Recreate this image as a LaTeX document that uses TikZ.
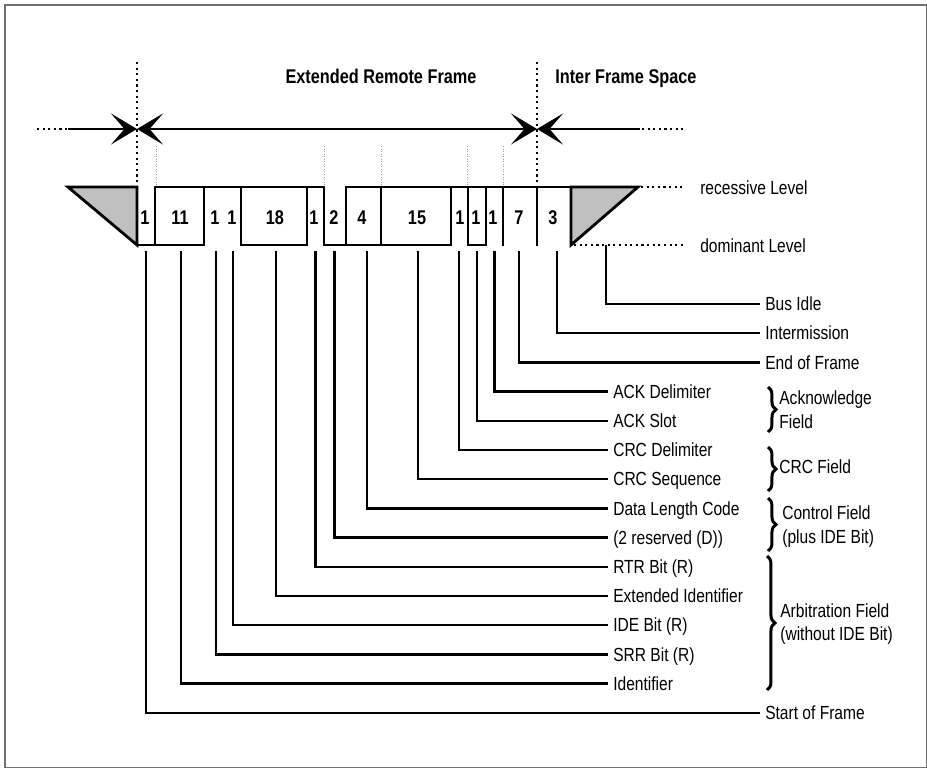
\documentclass[tikz,border=0pt]{standalone}
\usepackage{fontspec}
\setmainfont{Liberation Sans}[FakeStretch=0.82]
\usepackage{tikz}
\usetikzlibrary{arrows.meta,decorations.pathreplacing}
\definecolor{idlec}{HTML}{C0C0C0}
\definecolor{edgec}{HTML}{707070}
\definecolor{gridc}{HTML}{9A9A9A}
\tikzset{
  wave/.style={line width=1.6pt, line cap=rect, line join=miter},
  wire/.style={line width=1.3pt},
  span/.style={line width=1.5pt},
  dots/.style={line width=1.2pt, dash pattern=on 1.2pt off 2pt},
  tick/.style={draw=gridc, line width=0.35pt, dash pattern=on 0.35pt off 1.1pt},
  brc/.style={line width=1.7pt, decorate, decoration={brace, amplitude=4.5pt}},
  head/.style={font=\fontsize{11.3}{13}\selectfont\bfseries, inner sep=0pt, text height=8.1pt, text depth=0pt},
  bitnum/.style={head},
  lbl/.style={font=\fontsize{10.8}{13}\selectfont, anchor=west, inner xsep=2.8pt, inner ysep=0pt, text height=7.7pt, text depth=0pt},
  fld/.style={lbl, inner xsep=0pt},
}

\begin{document}
\begin{tikzpicture}[x=0.02cm, y=-0.02cm, >={Stealth[length=0.52cm, width=0.62cm, inset=0.27cm]}]
\useasboundingbox (0,0) rectangle (927,768);
\draw[edgec, line width=0.6pt] (5,5) rectangle (926.5,767.5);
\node[head] (erf) at (381,76) {Extended Remote Frame};
\node[head, anchor=west] (ifs) at (555,76) {Inter Frame Space};
\coordinate (fs) at (137,129);
\coordinate (fe) at (537,129);
\draw[dots] (137,62) -- (137,184);
\draw[dots] (537,62) -- (537,184);
\draw[dots] (37,129) -- (68,129);
\draw[span,->] (68,129) -- (fs);
\draw[span,<->] (fs) -- (fe);
\draw[span,->] (640,129) -- (fe);
\draw[dots] (642,129) -- (683,129);
\foreach \x in {156,324,381,467,503} \draw[tick] (\x,146) -- (\x,185);
\filldraw[wave, fill=idlec] (68,187) -- (137,187) -- (137,245) -- cycle;
\filldraw[wave, fill=idlec] (571,245) -- (571,187) -- (638,187) -- cycle;
\draw[wave] (137,245) -- (155,245) -- (155,187) -- (324,187) -- (324,245) -- (346,245) -- (346,187) -- (571,187);
\foreach \a/\b in {155/204, 241/307, 346/451, 468/486} \draw[wave] (\a,245) -- (\b,245);
\foreach \x in {204,241,307,381,451,468,486,503,537} \draw[wave] (\x,187) -- (\x,245);
\draw[dots] (641,187) -- (683,187);
\draw[dots] (574,245) -- (683,245);
\node[lbl] (rec) at (695,188) {recessive Level};
\node[lbl] (dom) at (695,246) {dominant Level};
\foreach \x/\n [count=\i] in {145/1,180/11,215/1,232/1,275/18,314/1,334/2,362/4,417/15,460/1,476/1,493/1,519/7,553/3}
  \node[bitnum] (bit\i) at (\x,217) {\n};
\foreach \x/\s/\y/\e/\t [count=\i] in {606/245/304/760/{Bus Idle}, 557/251/333.2/760/{Intermission},
    519/251/362.4/760/{End of Frame}, 494.5/251/391.6/608/{ACK Delimiter}, 477/251/420.8/608/{ACK Slot},
    459/251/450/608/{CRC Delimiter}, 418/251/479.2/608/{CRC Sequence}, 367/251/508.4/608/{Data Length Code},
    334.5/251/537.6/608/{(2 reserved (D))}, 315.5/251/566.8/608/{RTR Bit (R)}, 276/251/596/608/{Extended Identifier},
    233/251/625.2/608/{IDE Bit (R)}, 216/251/654.4/608/{SRR Bit (R)}, 181/251/683.6/608/{Identifier},
    146/251/712.8/760/{Start of Frame}}
{
  \node[lbl] (lab\i) at (\e,\y) {\t};
  \draw[wire] (\x,\s) |- (lab\i.west);
}
\draw[brc] (768,387) -- (768,432);
\draw[brc] (768,447) -- (768,491);
\draw[brc] (768,498) -- (768,551);
\draw[brc] (767,556) -- (767,690);
\node[fld] (ack1) at (779,398) {Acknowledge};
\node[fld] (ack2) at (779,422) {Field};
\node[fld] (crcf) at (779,467) {CRC Field};
\node[fld] (ctl1) at (782,513) {Control Field};
\node[fld] (ctl2) at (782,537) {(plus IDE Bit)};
\node[fld] (arb1) at (780,611) {Arbitration Field};
\node[fld] (arb2) at (780,634) {(without IDE Bit)};
\end{tikzpicture}
\end{document}
